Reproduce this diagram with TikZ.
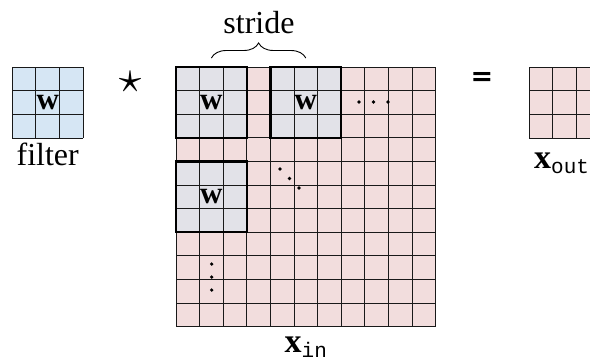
\documentclass[tikz,border=0pt]{standalone}
\usepackage{fontspec}
\setmainfont{Liberation Serif}
\setmonofont{Liberation Mono}
\newfontfamily\eqfont{DejaVu Sans}
\usetikzlibrary{decorations.pathreplacing}
\definecolor{filterblue}{HTML}{D6E6F4}
\definecolor{inpink}{HTML}{F2DDDD}
\definecolor{wingray}{HTML}{E2E2E8}
\begin{document}
\begin{tikzpicture}[x=1pt,y=1pt,
  gridline/.style={draw=black!90, line width=1pt},
  winbox/.style={draw=black, line width=2.2pt},
  wlabel/.style={inner sep=0pt, font=\fontsize{31}{33}\selectfont\bfseries},
  biglabel/.style={inner sep=0pt, font=\fontsize{32}{36}\selectfont},
  dotmark/.style={fill=black, draw=none}]
\useasboundingbox (0,0) rectangle (590,-362);
\clip (0,0) rectangle (590,-362);
\def\c{23.6}
% filter
\fill[filterblue] (12.3,-67.3) rectangle (83.1,-138.1);
\foreach \i in {0,...,3}{
  \draw[gridline] ({12.3+\i*\c},-67.3) -- ({12.3+\i*\c},-138.1);
  \draw[gridline] (12.3,{-67.3-\i*\c}) -- (83.1,{-67.3-\i*\c});
}
\node[wlabel] (wf) at (47.7,-103) {w};
\node[biglabel, anchor=base] (filt) at (47.7,-165) {filter};
% star
\node[inner sep=0pt] (star) at (130,-82) {\scalebox{4.5}{$\star$}};
% big input grid
\fill[inpink] (176,-67) rectangle ({176+11*\c},{-67-11*\c});
\fill[wingray] (176,-67) rectangle ++({3*\c},{-3*\c});
\fill[wingray] ({176+4*\c},-67) rectangle ++({3*\c},{-3*\c});
\fill[wingray] (176,{-67-4*\c}) rectangle ++({3*\c},{-3*\c});
\foreach \i in {0,...,11}{
  \draw[gridline] ({176+\i*\c},-67) -- ({176+\i*\c},{-67-11*\c});
  \draw[gridline] (176,{-67-\i*\c}) -- ({176+11*\c},{-67-\i*\c});
}
\draw[winbox] (176,-67) rectangle ++({3*\c},{-3*\c});
\draw[winbox] ({176+4*\c},-67) rectangle ++({3*\c},{-3*\c});
\draw[winbox] (176,{-67-4*\c}) rectangle ++({3*\c},{-3*\c});
\node[wlabel] (w1) at ({176+1.5*\c},{-67-1.5*\c}) {w};
\node[wlabel] (w2) at ({176+5.5*\c},{-67-1.5*\c}) {w};
\node[wlabel] (w3) at ({176+1.5*\c},{-67-5.5*\c}) {w};
% dots
\foreach \p in {(359,-102),(373.5,-102),(388,-102),(280,-169),(289.5,-178.5),(299,-188),(211.7,-264),(211.7,-277),(211.7,-290)}
  \fill[dotmark] \p circle (1.8);
% stride brace
\coordinate (b1) at ({176+1.5*\c},-58);
\coordinate (b2) at ({176+5.5*\c},-58);
\draw[line width=0.9pt, decorate, decoration={brace, amplitude=15pt}] (b1) -- (b2);
\node[biglabel] (stride) at (259,-23) {stride};
% x_in
\node[inner sep=0pt, anchor=base] (xin) at ({176+5.5*\c},-352) {\fontsize{34}{36}\selectfont\textbf{x}\raisebox{-5pt}{\fontsize{21}{24}\selectfont\ttfamily in}};
% equals
\node[inner sep=0pt, font=\eqfont\bfseries\fontsize{27}{30}\selectfont] (eq) at (482,-79) {=};
% output grid
\fill[inpink] (529,-67.3) rectangle ({529+3*\c},-138.1);
\foreach \i in {0,...,3}{
  \draw[gridline] ({529+\i*\c},-67.3) -- ({529+\i*\c},-138.1);
  \draw[gridline] (529,{-67.3-\i*\c}) -- ({529+3*\c},{-67.3-\i*\c});
}
\node[inner sep=0pt, anchor=base west] (xout) at (534,-168) {\fontsize{34}{36}\selectfont\textbf{x}\raisebox{-5pt}{\fontsize{21}{24}\selectfont\ttfamily out}};
\end{tikzpicture}
\end{document}
